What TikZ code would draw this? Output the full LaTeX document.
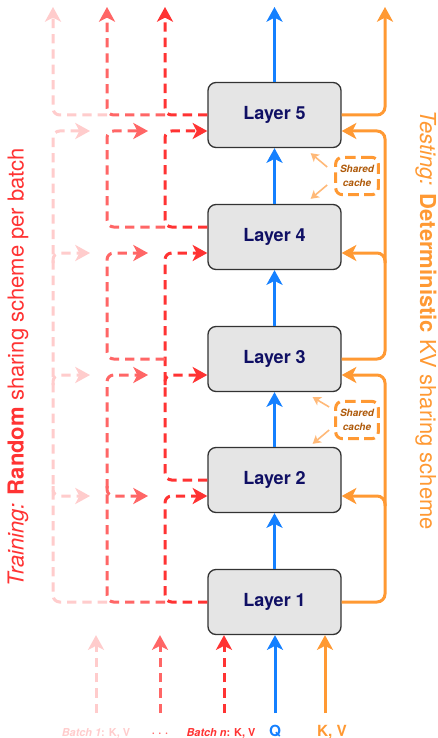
\documentclass[tikz,border=0pt]{standalone}
\usepackage{fontspec}
\setmainfont{TeX Gyre Heros}
\usetikzlibrary{arrows.meta,calc}

\definecolor{qblue}{RGB}{20,128,255}
\definecolor{kvorange}{RGB}{255,153,51}
\definecolor{cacheorange}{RGB}{255,185,120}
\definecolor{cachetext}{RGB}{175,90,10}
\definecolor{batchn}{RGB}{255,51,51}
\definecolor{batchmid}{RGB}{255,102,102}
\definecolor{batchone}{RGB}{255,204,204}
\definecolor{layerfill}{RGB}{229,229,229}
\definecolor{layertext}{RGB}{15,15,100}

\tikzset{
  layer/.style={draw=black!80, line width=1pt, fill=layerfill, rounded corners=6pt,
    minimum width=99.75pt, minimum height=48.75pt,
    font=\fontsize{13.5}{16}\selectfont\bfseries, text=layertext},
  bigtip/.style={-{Stealth[length=11pt,width=12pt,inset=3pt]}},
  qline/.style={qblue, line width=2.25pt, bigtip},
  kvline/.style={kvorange, line width=2.25pt, rounded corners=6pt},
  batchline/.style={line width=2.25pt, dash pattern=on 7pt off 4.5pt, rounded corners=5pt},
  cachebox/.style={draw=kvorange, line width=2.25pt, dash pattern=on 8pt off 4pt,
    rounded corners=5pt, minimum width=32pt, minimum height=28pt, align=center,
    inner sep=0pt, font=\fontsize{7.5}{10}\selectfont\bfseries\itshape, text=cachetext},
  cachearrow/.style={cacheorange, line width=1.2pt, -{Stealth[length=6pt,width=7pt,inset=1.5pt]}},
  inlabel/.style={font=\fontsize{11.5}{13}\selectfont\bfseries, anchor=base},
  batchlabel/.style={font=\fontsize{8.2}{10}\selectfont\bfseries, anchor=base}
}

\begin{document}
\begin{tikzpicture}[x=0.75pt, y=-0.75pt]
  %%%%% START %%%%%
  \useasboundingbox[fill=white] (0,0) rectangle (437,738);

  \foreach \i/\y in {1/602,2/480,3/359,4/237,5/115}
    \node[layer] (L\i) at (274.5,\y) {Layer \i};

  \coordinate (topedge) at (0,7);
  \coordinate (colL) at (53,0);
  \coordinate (colM) at (107,0);
  \coordinate (colR) at (165,0);
  \coordinate (colK) at (385,0);
  \coordinate (tipL) at (90,0);
  \coordinate (tipM) at (148,0);
  \foreach \i in {2,...,5} {
    \coordinate (inW\i) at ([yshift=-12pt]L\i.west);
    \coordinate (inE\i) at ([yshift=-12pt]L\i.east);
  }
  \coordinate (out4) at ([yshift=7.5pt]L4.west);

  % query path
  \foreach \i/\j in {1/2,2/3,3/4,4/5}
    \draw[qline] (L\i.north) -- (L\j.south);
  \draw[qline] (L5.north) -- (L5.north |- topedge);

  % deterministic kv sharing
  \draw[kvline, bigtip] (L5.east) -| (colK |- topedge);
  \draw[kvline, bigtip] (L3.east) -| (colK |- inE5) -- (inE5);
  \draw[kvline, bigtip] ($(colK |- inE4)+(0,10)$) |- (inE4);
  \draw[kvline, bigtip] (L1.east) -| (colK |- inE3) -- (inE3);
  \draw[kvline, bigtip] ($(colK |- inE2)+(0,10)$) |- (inE2);

  % batch n
  \draw[batchline, batchn, bigtip] (L5.west) -| (colR |- topedge);
  \draw[batchline, batchn, bigtip] (out4) -| (colR |- inW5) -- (inW5);
  \draw[batchline, batchn, bigtip] (L2.west) -| (colR |- inW4) -- (inW4);
  \draw[batchline, batchn, bigtip] ($(colR |- inW3)+(0,10)$) |- (inW3);
  \draw[batchline, batchn, bigtip] (L1.west) -| (colR |- inW2) -- (inW2);

  % middle batches
  \draw[batchline, batchmid, bigtip] (colR |- L5.west) -| (colM |- topedge);
  \draw[batchline, batchmid, bigtip] (colR |- out4) -| (colM |- inW5) -- (tipM |- inW5);
  \draw[batchline, batchmid, bigtip] (colR |- L3.west) -| (colM |- inW4) -- (tipM |- inW4);
  \draw[batchline, batchmid, bigtip] (colR |- L1.west) -| (colM |- inW3) -- (tipM |- inW3);
  \draw[batchline, batchmid, bigtip] ($(colM |- inW2)+(0,-10)$) |- (tipM |- inW2);

  % batch 1
  \draw[batchline, batchone, bigtip] (colM |- L5.west) -| (colL |- topedge);
  \draw[batchline, batchone, bigtip] (colM |- L1.west) -| (colL |- inW5) -- (tipL |- inW5);
  \draw[batchline, batchone, bigtip] ($(colL |- inW2)+(0,-10)$) |- (tipL |- inW2);
  \foreach \i in {3,4}
    \draw[batchline, batchone, bigtip] ($(colL |- inW\i)+(0,10)$) |- (tipL |- inW\i);

  % shared caches
  \node[cachebox] (cache45) at (357,176) {Shared\\cache};
  \node[cachebox] (cache23) at (357,420) {Shared\\cache};
  \draw[cachearrow] ($(cache45.west)+(-7,-9)$) -- ($(L5.south east)+(-31,5)$);
  \draw[cachearrow] ($(cache45.west)+(-7,9)$) -- ($(L4.north east)+(-31,-5)$);
  \draw[cachearrow] ($(cache23.west)+(-5,-13)$) -- ($(L3.south east)+(-29,5)$);
  \draw[cachearrow] ($(cache23.west)+(-5,10)$) -- ($(L2.north east)+(-29,-3)$);

  % inputs
  \coordinate (src1) at (96,713);
  \coordinate (srcmid) at (160,713);
  \coordinate (srcn) at (224,713);
  \coordinate (srcQ) at (275,713);
  \coordinate (srcKV) at (325,713);
  \draw[batchline, batchone, bigtip] (src1) -- (src1 |- L1.south);
  \draw[batchline, batchmid, bigtip] (srcmid) -- (srcmid |- L1.south);
  \draw[batchline, batchn, bigtip] (srcn) -- (srcn |- L1.south);
  \draw[qline] (srcQ) -- (srcQ |- L1.south);
  \draw[kvline, bigtip] (srcKV) -- (srcKV |- L1.south);

  \node[batchlabel, text=batchone] (lbl1) at (96,736) {\textit{Batch 1}: K, V};
  \node[batchlabel, text=batchmid] (lbldots) at (160,736) {·\,\,·\,\,·};
  \node[batchlabel, text=batchn] (lbln) at (221,736) {\textit{Batch n}: K, V};
  \node[inlabel, text=qblue] (lblQ) at (275,736) {Q};
  \node[inlabel, text=kvorange] (lblKV) at (332,736) {K, V};

  % side captions
  \node[rotate=90, text=batchn, font=\fontsize{16.5}{20}\selectfont] (trainlbl) at (18,367)
    {\textit{Training:} \textbf{Random} sharing scheme per batch};
  \node[rotate=-90, text=kvorange, font=\fontsize{16.5}{20}\selectfont] (testlbl) at (426,320)
    {\textit{Testing:} \textbf{Deterministic} KV sharing scheme};
  %%%%% END %%%%%
\end{tikzpicture}
\end{document}
